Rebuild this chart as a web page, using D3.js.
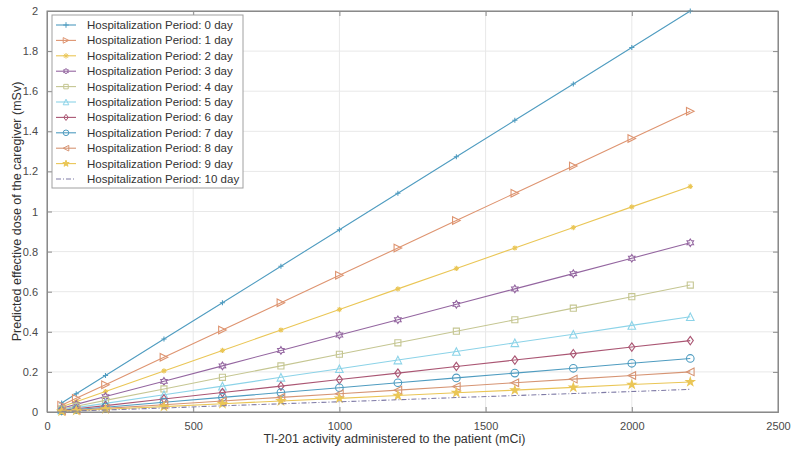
<!DOCTYPE html>
<html>
<head>
<meta charset="utf-8">
<script src="https://cdn.jsdelivr.net/npm/d3@7"></script>
<style>
  body { margin: 0; background: #fff; }
  text { font-family: "Liberation Sans", Arial, sans-serif; }
</style>
</head>
<body>
<div id="chart"></div>
<script>
// activity administered (mCi)
let activity = [50, 100, 200, 400, 600, 800, 1000, 1200, 1400, 1600, 1800, 2000, 2200];

// predicted effective dose (mSv), one array per hospitalization period
let day0  = [0.045, 0.091, 0.182, 0.364, 0.545, 0.727, 0.909, 1.091, 1.273, 1.455, 1.636, 1.818, 2.000];
let day1  = [0.034, 0.068, 0.136, 0.273, 0.409, 0.545, 0.682, 0.818, 0.955, 1.091, 1.227, 1.364, 1.500];
let day2  = [0.026, 0.051, 0.102, 0.205, 0.307, 0.409, 0.511, 0.614, 0.716, 0.818, 0.920, 1.023, 1.125];
let day3  = [0.019, 0.038, 0.077, 0.153, 0.230, 0.307, 0.384, 0.460, 0.537, 0.614, 0.690, 0.767, 0.844];
let day4  = [0.014, 0.029, 0.058, 0.115, 0.173, 0.230, 0.288, 0.345, 0.403, 0.460, 0.518, 0.575, 0.633];
let day5  = [0.011, 0.022, 0.043, 0.086, 0.129, 0.173, 0.216, 0.259, 0.302, 0.345, 0.388, 0.432, 0.475];
let day6  = [0.008, 0.016, 0.032, 0.065, 0.097, 0.129, 0.162, 0.194, 0.227, 0.259, 0.291, 0.324, 0.356];
let day7  = [0.006, 0.012, 0.024, 0.049, 0.073, 0.097, 0.121, 0.146, 0.170, 0.194, 0.218, 0.243, 0.267];
let day8  = [0.005, 0.009, 0.018, 0.036, 0.055, 0.073, 0.091, 0.109, 0.127, 0.146, 0.164, 0.182, 0.200];
let day9  = [0.003, 0.007, 0.014, 0.027, 0.041, 0.055, 0.068, 0.082, 0.096, 0.109, 0.123, 0.137, 0.150];
let day10 = [0.003, 0.005, 0.010, 0.020, 0.031, 0.041, 0.051, 0.061, 0.072, 0.082, 0.092, 0.102, 0.113];

let seriesNames = ["Hospitalization Period: 0 day", "Hospitalization Period: 1 day",
    "Hospitalization Period: 2 day", "Hospitalization Period: 3 day", "Hospitalization Period: 4 day",
    "Hospitalization Period: 5 day", "Hospitalization Period: 6 day", "Hospitalization Period: 7 day",
    "Hospitalization Period: 8 day", "Hospitalization Period: 9 day", "Hospitalization Period: 10 day"];
let seriesValues = [day0, day1, day2, day3, day4, day5, day6, day7, day8, day9, day10];

let xTicks = [0, 500, 1000, 1500, 2000, 2500];
let yTicks = [0, 0.2, 0.4, 0.6, 0.8, 1, 1.2, 1.4, 1.6, 1.8, 2];

let colors = ["#4f9cc0", "#de9470", "#eac656", "#9466a0", "#c5c692", "#8cd3e8",
    "#aa5673", "#4f9cc0", "#d69473", "#eac656", "#7f7ba6"];
let markers = ["plus", "triR", "aster", "hexa", "square", "triU", "diamond", "circle", "triL", "star", "none"];

let width = 799, height = 449;
let margin = { top: 11, right: 21, bottom: 37, left: 47 };
let plotW = width - margin.left - margin.right;
let plotH = height - margin.top - margin.bottom;

let svg = d3.select("#chart").append("svg")
    .attr("width", width)
    .attr("height", height);

let g = svg.append("g")
    .attr("transform", "translate(" + margin.left + "," + margin.top + ")");

let x = d3.scaleLinear().domain([0, 2500]).range([0, plotW]);
let y = d3.scaleLinear().domain([0, 2]).range([plotH, 0]);

// grid
g.append("g").selectAll("line").data(xTicks).enter().append("line")
    .attr("x1", d => x(d)).attr("x2", d => x(d))
    .attr("y1", 0).attr("y2", plotH)
    .attr("stroke", "#e8e8e8").attr("stroke-width", 1);
g.append("g").selectAll("line").data(yTicks).enter().append("line")
    .attr("x1", 0).attr("x2", plotW)
    .attr("y1", d => y(d)).attr("y2", d => y(d))
    .attr("stroke", "#e8e8e8").attr("stroke-width", 1);

// axes (ticks inside like matlab)
let xAxis = g.append("g")
    .attr("transform", "translate(0," + plotH + ")")
    .call(d3.axisBottom(x).tickValues(xTicks).tickSize(-5).tickPadding(10).tickFormat(d3.format("d")));
let xAxisTop = g.append("g")
    .call(d3.axisTop(x).tickValues(xTicks).tickSize(-5).tickFormat(""));
let yAxis = g.append("g")
    .call(d3.axisLeft(y).tickValues(yTicks).tickSize(-5).tickPadding(9).tickFormat(d => d3.format("~g")(d)));
let yAxisRight = g.append("g")
    .attr("transform", "translate(" + plotW + ",0)")
    .call(d3.axisRight(y).tickValues(yTicks).tickSize(-5).tickFormat(""));

[xAxis, xAxisTop, yAxis, yAxisRight].forEach(a => {
    a.selectAll("path").attr("stroke", "#8a8a8a");
    a.selectAll("line").attr("stroke", "#8a8a8a");
    a.selectAll("text").attr("fill", "#4a4a4a").style("font-size", "11px");
});

// marker shapes
let symbolPath = (type, s) => {
    switch (type) {
        case "plus": return "M" + (-s) + ",0H" + s + "M0," + (-s) + "V" + s;
        case "aster": return "M" + (-s) + ",0H" + s + "M0," + (-s) + "V" + s +
            "M" + (-s * 0.7) + "," + (-s * 0.7) + "L" + (s * 0.7) + "," + (s * 0.7) +
            "M" + (-s * 0.7) + "," + (s * 0.7) + "L" + (s * 0.7) + "," + (-s * 0.7);
        case "triR": return "M" + (-s) + "," + (-s) + "L" + s + ",0L" + (-s) + "," + s + "Z";
        case "triL": return "M" + s + "," + (-s) + "L" + (-s) + ",0L" + s + "," + s + "Z";
        case "triU": return "M0," + (-s) + "L" + s + "," + s + "L" + (-s) + "," + s + "Z";
        case "square": return "M" + (-s * 0.8) + "," + (-s * 0.8) + "H" + (s * 0.8) + "V" + (s * 0.8) + "H" + (-s * 0.8) + "Z";
        case "diamond": return "M0," + (-s * 1.1) + "L" + (s * 0.8) + ",0L0," + (s * 1.1) + "L" + (-s * 0.8) + ",0Z";
        case "circle": return d3.symbol().type(d3.symbolCircle).size(Math.PI * s * s)();
        case "hexa": {
            let pts = [];
            for (let i = 0; i < 12; i++) {
                let r = i % 2 == 0 ? s : s * 0.6;
                let a = Math.PI / 6 * i - Math.PI / 2;
                pts.push([r * Math.cos(a), r * Math.sin(a)]);
            }
            return "M" + pts.map(p => p.join(",")).join("L") + "Z";
        }
        case "star": return d3.symbol().type(d3.symbolStar).size(s * s * 1.6)();
        default: return "";
    }
}

let markerSize = (type) => {
    if (type == "plus" || type == "aster") return 2.6;
    if (type == "star") return 3.6;
    return 3.8;
}

let line = d3.line().x((d, i) => x(activity[i])).y(d => y(d));

seriesValues.forEach((vals, k) => {
    let sg = g.append("g");
    sg.append("path")
        .datum(vals)
        .attr("d", line)
        .attr("fill", "none")
        .attr("stroke", colors[k])
        .attr("stroke-width", 1.1)
        .attr("stroke-dasharray", markers[k] == "none" ? "5,2,1,2" : null);
    if (markers[k] != "none") {
        sg.selectAll("path.m").data(vals).enter().append("path")
            .attr("class", "m")
            .attr("transform", (d, i) => "translate(" + x(activity[i]) + "," + y(d) + ")")
            .attr("d", symbolPath(markers[k], markerSize(markers[k])))
            .attr("fill", markers[k] == "star" || markers[k] == "aster" ? colors[k] : "none")
            .attr("stroke", colors[k])
            .attr("stroke-width", 1.1);
    }
});

// box
g.append("rect")
    .attr("width", plotW).attr("height", plotH)
    .attr("fill", "none").attr("stroke", "#8a8a8a").attr("stroke-width", 1);

// legend
let legend = g.append("g").attr("transform", "translate(5,4)");
let rowH = 15.4;
legend.append("rect")
    .attr("width", 191).attr("height", 173)
    .attr("fill", "#fff").attr("stroke", "#a0a0a0").attr("stroke-width", 1);
seriesNames.forEach((name, k) => {
    let row = legend.append("g").attr("transform", "translate(0," + (10 + k * rowH) + ")");
    row.append("line")
        .attr("x1", 4).attr("x2", 24).attr("y1", 0).attr("y2", 0)
        .attr("stroke", colors[k]).attr("stroke-width", 1.1)
        .attr("stroke-dasharray", markers[k] == "none" ? "5,2,1,2" : null);
    if (markers[k] != "none") {
        row.append("path")
            .attr("transform", "translate(14,0)")
            .attr("d", symbolPath(markers[k], 2.8))
            .attr("fill", markers[k] == "star" || markers[k] == "aster" ? colors[k] : "none")
            .attr("stroke", colors[k]).attr("stroke-width", 1);
    }
    row.append("text")
        .attr("x", 35).attr("y", 4)
        .style("font-size", "11.5px")
        .attr("fill", "#333")
        .text(name);
});

// axis titles
svg.append("text")
    .attr("x", margin.left + plotW / 2 - 18)
    .attr("y", 443)
    .attr("text-anchor", "middle")
    .style("font-size", "12.5px")
    .attr("fill", "#333")
    .text("Tl-201 activity administered to the patient (mCi)");

svg.append("text")
    .attr("transform", "translate(21," + (margin.top + plotH / 2) + ") rotate(-90)")
    .attr("text-anchor", "middle")
    .style("font-size", "12.5px")
    .attr("fill", "#333")
    .text("Predicted effective dose of the caregiver (mSv)");
</script>
</body>
</html>
